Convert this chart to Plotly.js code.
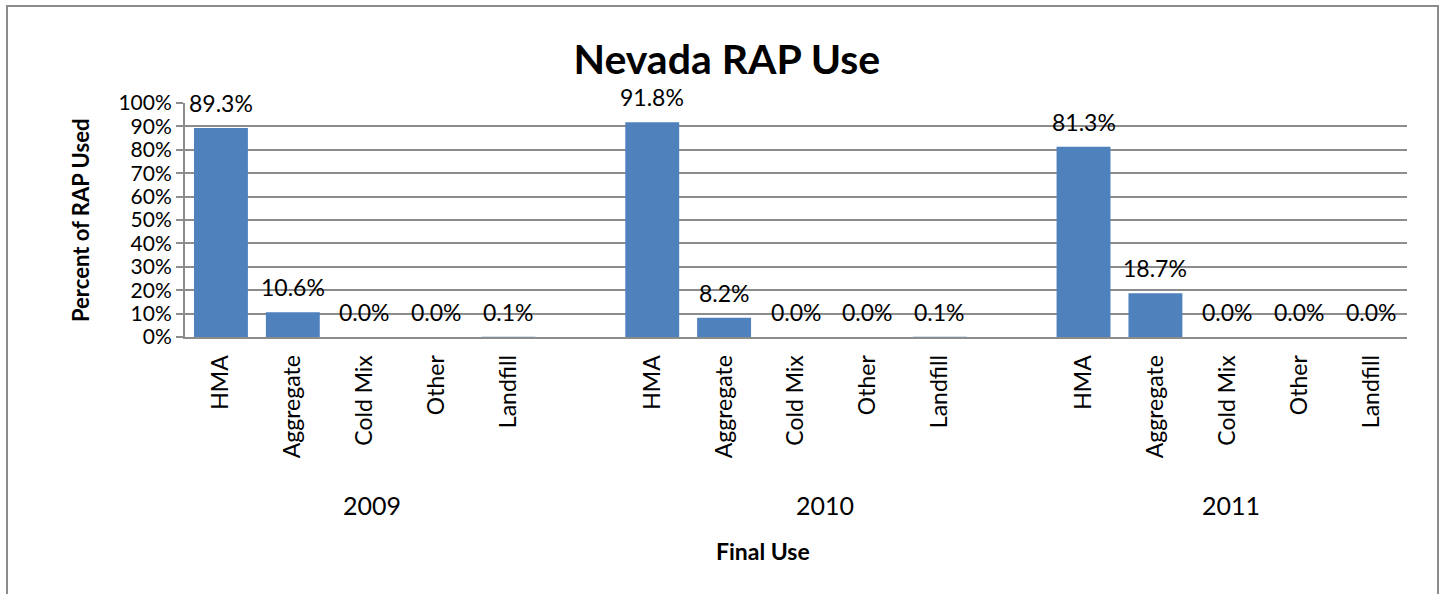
<!DOCTYPE html>
<html>
<head>
<meta charset="utf-8">
<script src="https://cdn.plot.ly/plotly-3.0.1.min.js"></script>
<style>
html,body{margin:0;padding:0;background:#fff;overflow:hidden;}
#wrap{position:relative;width:1445px;height:594px;overflow:hidden;}
#chart{position:absolute;left:0;top:0;width:1445px;height:594px;}
#frame{position:absolute;left:6px;top:5px;width:1429px;height:600px;border:2px solid #8c8c8c;pointer-events:none;}
</style>
</head>
<body>
<div id="wrap"><div id="chart"></div><div id="frame"></div></div>
<script>
// Categories (17 slots: 3 groups of 5, separated by blank slots)
const categories = ["HMA","Aggregate","Cold Mix","Other","Landfill","",
                    "HMA","Aggregate","Cold Mix","Other","Landfill","",
                    "HMA","Aggregate","Cold Mix","Other","Landfill"];
const years = ["2009","2010","2011"];
const values2009 = [89.3, 10.6, 0.0, 0.0, 0.1];
const values2010 = [91.8, 8.2, 0.0, 0.0, 0.1];
const values2011 = [81.3, 18.7, 0.0, 0.0, 0.0];

const allValues = [...values2009, null, ...values2010, null, ...values2011];
const xs = categories.map((c,i)=>i);

const font = "Lato, 'Open Sans', sans-serif";

const trace = {
  type: "bar",
  x: xs,
  y: allValues,
  marker: {color: "#4F81BD"},
  cliponaxis: false,
  hoverinfo: "none"
};

const pLeft = 185, pRight = 1407, pTop = 103, pBot = 337;
const toPaperY = py => (pBot - py) / (pBot - pTop);
const toPaperX = px => (px - pLeft) / (pRight - pLeft);

const annotations = [];
// data labels, anchored to each bar top through the axes
allValues.forEach((v, i) => {
  if (v === null) return;
  annotations.push({
    text: v.toFixed(1) + "%", x: i, xref: "x", y: v, yref: "y",
    yanchor: "bottom", yshift: 9, showarrow: false,
    font: {family: font, size: 23, color: "#000"}
  });
});
// group (year) labels
[{text: years[0], x: 2.1}, {text: years[1], x: 8.4}, {text: years[2], x: 14.05}].forEach(a => {
  annotations.push({
    text: a.text, x: a.x, xref: "x", y: toPaperY(505), yref: "paper", yanchor: "middle",
    showarrow: false, font: {family: font, size: 25, color: "#000"}
  });
});
annotations.push({
  text: "<b>Final Use</b>", x: toPaperX(763), xref: "paper", y: toPaperY(551), yref: "paper",
  yanchor: "middle", showarrow: false, font: {family: font, size: 23, color: "#000"}
});
annotations.push({
  text: "<b>Percent of RAP Used</b>", x: toPaperX(80), xref: "paper", y: toPaperY(221), yref: "paper",
  xanchor: "center", yanchor: "middle", textangle: -90, showarrow: false,
  font: {family: font, size: 22, color: "#000"}
});

const layout = {
  width: 1445, height: 594,
  margin: {l: 185, r: 38, t: 103, b: 257},
  paper_bgcolor: "rgba(0,0,0,0)",
  plot_bgcolor: "#fff",
  showlegend: false,
  bargap: 0.25,
  title: {text: "<b>Nevada RAP Use</b>", font: {family: font, size: 41, color: "#000"},
          x: 0.503, xanchor: "center", y: 0.9, yanchor: "middle", yref: "container"},
  xaxis: {
    range: [-0.5, 16.5],
    tickmode: "array",
    tickvals: xs,
    ticktext: categories,
    tickangle: -90,
    ticks: "",
    ticklabelstandoff: 7,
    tickfont: {family: font, size: 23, color: "#000"},
    showgrid: false,
    showline: true, linecolor: "#8c8c8c", linewidth: 2,
    zeroline: false, fixedrange: true
  },
  yaxis: {
    range: [0, 100],
    dtick: 10, tick0: 0,
    ticksuffix: "%",
    ticks: "outside", ticklen: 7, tickwidth: 2, tickcolor: "#8c8c8c",
    tickfont: {family: font, size: 21, color: "#000"},
    showgrid: true, gridcolor: "#8c8c8c", gridwidth: 2,
    showline: true, linecolor: "#8c8c8c", linewidth: 2,
    zeroline: false, fixedrange: true
  },
  annotations: annotations
};

Plotly.newPlot("chart", [trace], layout, {displayModeBar: false, staticPlot: true});
</script>
</body>
</html>
